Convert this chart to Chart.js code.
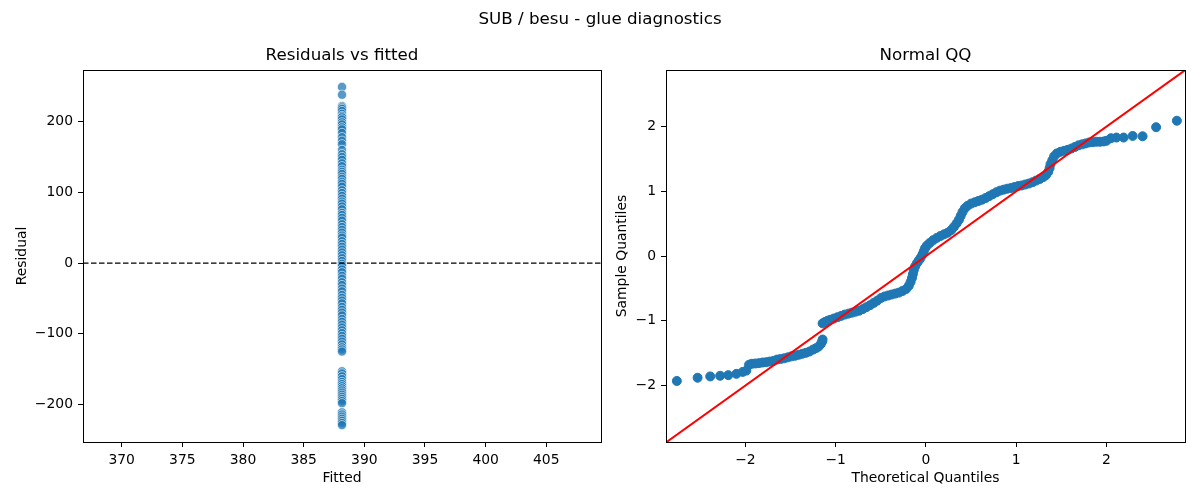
<!DOCTYPE html>
<html>
<head>
<meta charset="utf-8">
<title>SUB / besu - glue diagnostics</title>
<script src="https://cdn.jsdelivr.net/npm/chart.js@4.4.1/dist/chart.umd.min.js"></script>
<style>
  body { margin: 0; background: #fff; }
  #page { position: relative; width: 1200px; height: 500px; font-family: 'DejaVu Sans', sans-serif; }
  #suptitle { position: absolute; left: 0; top: 8px; width: 1200px; line-height: 20px; text-align: center; font-size: 16.7px; color: #000; }
  canvas { position: absolute; top: 0; }
  #resid-chart { left: 0; }
  #qq-chart { left: 600px; }
</style>
</head>
<body>
<div id="page">
  <canvas id="resid-chart" width="615" height="500"></canvas>
  <canvas id="qq-chart" width="600" height="500"></canvas>
  <div id="suptitle">SUB / besu - glue diagnostics</div>
</div>
<script>
// every point sits on the same fitted value
const fittedValue = 388.16

const residuals = [
  249, 238, 222, 220, 218, 215, 211, 208, 206, 203, 199, 196, 192, 189, 184,
  178, 173, 168, 160, 154, 150, 146, 141, 137, 132, 129, 126, 122, 119, 115,
  112, 108, 103, 99, 95, 91, 87, 84, 80, 76, 71, 68, 64, 60, 55, 51, 47, 43,
  39, 36, 31, 27, 23, 19, 15, 11, 7, 3, -1, -4, -9, -13, -18, -22, -27, -31,
  -36, -40, -45, -49, -53, -57, -62, -66, -70, -74, -79, -83, -87, -91, -95,
  -99, -103, -107, -111, -115, -119, -122, -125, -153, -156, -160, -164, -168,
  -171, -174, -177, -180, -183, -186, -189, -192, -195, -198, -211, -214, -217,
  -220, -223, -226, -229,
]

const qqTheoretical = [
  -2.76, -2.53, -2.39, -2.28, -2.19, -2.10, -2.03, -1.99,
  -1.96, -1.93, -1.89, -1.85, -1.81, -1.77, -1.73, -1.69, -1.65, -1.61, -1.57,
  -1.53, -1.49, -1.45, -1.41, -1.37, -1.33, -1.29, -1.25, -1.22, -1.19, -1.165,
  -1.15, -1.145,
  -1.145, -1.12, -1.09, -1.06, -1.02, -0.98, -0.94, -0.90, -0.86, -0.82, -0.78,
  -0.74, -0.70, -0.66, -0.62, -0.58, -0.54, -0.50, -0.46, -0.42, -0.38, -0.34,
  -0.30, -0.26, -0.22, -0.19, -0.17, -0.155, -0.145, -0.135, -0.12, -0.10,
  -0.08, -0.06, -0.04, -0.025, -0.01, 0.01, 0.04, 0.08, 0.12, 0.16, 0.20, 0.24,
  0.28, 0.31, 0.34, 0.365, 0.385, 0.405, 0.43, 0.46, 0.50, 0.54, 0.58, 0.62,
  0.66, 0.70, 0.74, 0.78, 0.82, 0.86, 0.90, 0.94, 0.98, 1.02, 1.06, 1.10, 1.14,
  1.18, 1.22, 1.26, 1.30, 1.33, 1.355, 1.37, 1.38, 1.40, 1.42, 1.45, 1.49, 1.53,
  1.57, 1.61, 1.65, 1.69, 1.73, 1.77, 1.81, 1.85, 1.89, 1.93, 1.97, 2.00,
  2.05, 2.11, 2.19, 2.29, 2.40, 2.55, 2.78,
]

const qqSample = [
  -1.93, -1.88, -1.86, -1.85, -1.84, -1.82, -1.79, -1.77,
  -1.68, -1.665, -1.66, -1.655, -1.645, -1.64, -1.63, -1.62, -1.60, -1.59, -1.58,
  -1.565, -1.55, -1.54, -1.525, -1.51, -1.495, -1.475, -1.445, -1.425, -1.40,
  -1.36, -1.32, -1.29,
  -1.04, -1.02, -1.00, -0.985, -0.965, -0.945, -0.925, -0.905, -0.89, -0.875,
  -0.86, -0.845, -0.82, -0.79, -0.76, -0.725, -0.69, -0.65, -0.625, -0.61,
  -0.595, -0.58, -0.565, -0.54, -0.51, -0.46, -0.40, -0.34, -0.28, -0.22, -0.16,
  -0.11, -0.07, -0.03, 0.02, 0.07, 0.12, 0.16, 0.20, 0.245, 0.28, 0.31, 0.335,
  0.36, 0.40, 0.45, 0.505, 0.56, 0.62, 0.68, 0.735, 0.775, 0.81, 0.83, 0.85,
  0.87, 0.895, 0.925, 0.955, 0.985, 1.01, 1.025, 1.04, 1.05, 1.065, 1.08, 1.09,
  1.105, 1.12, 1.14, 1.165, 1.19, 1.22, 1.25, 1.30, 1.36, 1.42, 1.48, 1.54,
  1.585, 1.61, 1.625, 1.64, 1.66, 1.685, 1.71, 1.725, 1.74, 1.755, 1.76, 1.765,
  1.765, 1.77, 1.78,
  1.82, 1.83, 1.83, 1.855, 1.85, 1.99, 2.09,
]

// ends of the 45 degree reference line
const refLine = [-3, 3]

const residX = { min: 366.81, max: 409.51 }
const residY = { min: -252.9, max: 272.9 }
const qqX = { min: -2.88, max: 2.87 }
const qqY = { min: -2.873, max: 2.873 }

const fontFamily = "'DejaVu Sans', sans-serif"
const tickFont = { family: fontFamily, size: 13.9 }
const titleFont = { family: fontFamily, size: 16.7, weight: 'normal' }

function formatTick (value) {
  const v = Math.round(value * 100) / 100
  return String(v).replace('-', '\u2212')
}

// matplotlib style box round the plot area
const framePlugin = {
  id: 'frame',
  afterDraw (chart) {
    const a = chart.chartArea
    const ctx = chart.ctx
    ctx.save()
    ctx.strokeStyle = '#000'
    ctx.lineWidth = 1
    ctx.strokeRect(Math.round(a.left) + 0.5, Math.round(a.top) + 0.5,
      Math.round(a.right - a.left), Math.round(a.bottom - a.top))
    ctx.restore()
  },
}

function makeAxis (title, range, step, position, size) {
  const isX = position === 'bottom'
  return {
    type: 'linear',
    position: position,
    min: range.min,
    max: range.max,
    title: {
      display: true,
      text: title,
      color: '#000',
      font: tickFont,
      padding: isX ? { top: 0, bottom: 13.7 } : { top: 13.7, bottom: 0 },
    },
    ticks: {
      stepSize: step,
      includeBounds: false,
      autoSkip: false,
      maxRotation: 0,
      color: '#000',
      font: tickFont,
      padding: 5,
      callback: formatTick,
    },
    grid: {
      drawOnChartArea: false,
      drawTicks: true,
      tickLength: 5,
      tickColor: '#000',
      tickWidth: 1,
    },
    border: { display: false },
    afterFit: function (scale) {
      if (isX) {
        scale.height = size
      } else {
        scale.width = size
      }
    },
  }
}

function baseOptions (title, rightPad, xAxis, yAxis) {
  return {
    responsive: false,
    animation: false,
    events: [],
    layout: { padding: { left: 0, right: rightPad, top: 0, bottom: 0 } },
    plugins: {
      legend: { display: false },
      tooltip: { enabled: false },
      title: {
        display: true,
        text: title,
        color: '#000',
        font: titleFont,
        fullSize: false,
        padding: { top: 46, bottom: 4 },
      },
    },
    scales: { x: xAxis, y: yAxis },
  }
}

const residPoints = residuals.map(function (r) {
  return { x: fittedValue, y: r }
})

const residChart = new Chart(document.getElementById('resid-chart').getContext('2d'), {
  type: 'scatter',
  data: {
    datasets: [
      {
        data: [{ x: residX.min, y: 0 }, { x: residX.max, y: 0 }],
        showLine: true,
        borderColor: '#000',
        borderWidth: 1.3,
        borderDash: [5.5, 2.5],
        pointRadius: 0,
        order: 0,
      },
      {
        data: residPoints,
        backgroundColor: 'rgba(31,119,180,0.75)',
        borderColor: 'rgba(255,255,255,0.75)',
        borderWidth: 0.8,
        pointRadius: 4.6,
        order: 1,
      },
    ],
  },
  options: baseOptions('Residuals vs fitted', 14,
    makeAxis('Fitted', residX, 5, 'bottom', 58),
    makeAxis('Residual', residY, 100, 'left', 83)),
  plugins: [framePlugin],
})

const qqPoints = []
for (let i = 0; i < Math.min(qqTheoretical.length, qqSample.length); i++) {
  qqPoints.push({ x: qqTheoretical[i], y: qqSample[i] })
}

const qqChart = new Chart(document.getElementById('qq-chart').getContext('2d'), {
  type: 'scatter',
  data: {
    datasets: [
      {
        data: refLine.map(function (v) { return { x: v, y: v } }),
        showLine: true,
        borderColor: '#ff0000',
        borderWidth: 2,
        pointRadius: 0,
        order: 0,
      },
      {
        data: qqPoints,
        backgroundColor: '#1f77b4',
        borderColor: '#1f77b4',
        borderWidth: 1,
        pointRadius: 4.5,
        order: 1,
      },
    ],
  },
  options: baseOptions('Normal QQ', 15,
    makeAxis('Theoretical Quantiles', qqX, 1, 'bottom', 58),
    makeAxis('Sample Quantiles', qqY, 1, 'left', 66)),
  plugins: [framePlugin],
})
</script>
</body>
</html>
